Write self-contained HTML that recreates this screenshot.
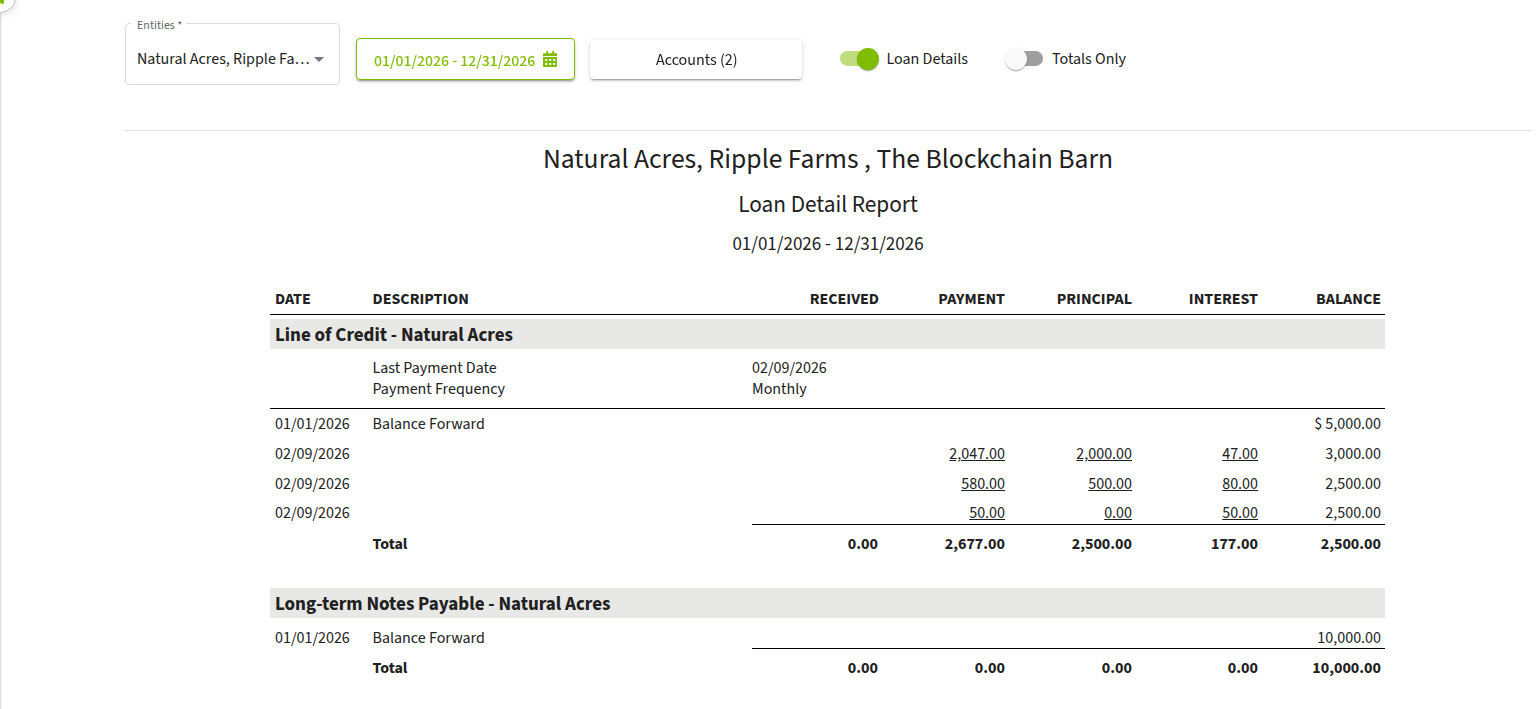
<!DOCTYPE html>
<html lang="en">
<head>
<meta charset="utf-8">
<title>Loan Detail Report</title>
<style>
html,body{margin:0;padding:0;background:#fff;}
body{width:1539px;height:709px;overflow:hidden;position:relative;
  font-family:"Source Sans 3","Source Sans Pro","Liberation Sans",sans-serif;color:#212121;font-size:16px;}
.a{position:absolute;white-space:nowrap;}
.t16{font-size:16px;line-height:20px;height:20px;}
.r{text-align:right;}
.gs{will-change:transform;}
.b{font-weight:700;}
u{text-decoration:underline;}
/* left rail */
#rail{position:absolute;left:0;top:10px;width:1px;height:699px;background:#dcdcdc;box-shadow:1px 0 0 #f5f5f5;}
#knob{position:absolute;left:-15.9px;top:-18.5px;width:29.8px;height:29.8px;border-radius:50%;background:#fff;border:1px solid #c6c6c6;box-shadow:1px 2px 7px rgba(0,0,0,.10);}
/* entity select */
#ent{position:absolute;left:125px;top:23px;width:213px;height:60px;border:1px solid #dcdcdc;border-radius:4px;}
#entlab{position:absolute;left:131px;top:18px;padding:0 4px 0 6px;background:#fff;font-size:12px;line-height:16px;color:#666;}
#caret{position:absolute;left:314px;top:57px;width:0;height:0;border-left:5px solid transparent;border-right:5px solid transparent;border-top:5px solid #757575;}
/* date button */
#datebtn{position:absolute;left:356px;top:38px;width:217px;height:40px;border:1px solid #80bc00;border-radius:4px;background:#fff;
  box-shadow:0 3px 1px -2px rgba(0,0,0,.2),0 2px 2px 0 rgba(0,0,0,.14),0 1px 5px 0 rgba(0,0,0,.12);}
#acctbtn{position:absolute;left:590px;top:40px;width:212px;height:39px;border-radius:4px;background:#fff;
  box-shadow:0 3px 1px -2px rgba(0,0,0,.2),0 2px 2px 0 rgba(0,0,0,.14),0 1px 5px 0 rgba(0,0,0,.12);}
.track{position:absolute;width:36px;height:14.7px;border-radius:7.35px;}
.thumb{position:absolute;width:22px;height:22px;border-radius:50%;
  box-shadow:0 2px 1px -1px rgba(0,0,0,.2),0 1px 1px 0 rgba(0,0,0,.14),0 1px 3px 0 rgba(0,0,0,.12);}
#hr{position:absolute;left:125px;top:130px;width:1406px;height:1px;background:#e0e0e0;}
.center{position:absolute;left:125px;width:1406px;text-align:center;white-space:nowrap;}
.band{position:absolute;left:270px;width:1115px;height:30px;background:#e8e8e6;}
.line{position:absolute;height:1px;background:#000;}
</style>
</head>
<body>
<div id="rail"></div>
<div id="knob"></div>
<svg style="position:absolute;left:-20px;top:-20px;overflow:visible" width="40" height="40" viewBox="0 0 40 40"><path d="M19 16 L24 16 L24 22.4 Q24 24.1 22.5 24.1 Q21.4 24.1 20.7 23.2 L19 21.6 Z" fill="#80bc00"/></svg>

<!-- Entities select -->
<div id="ent"></div>
<div id="entlab">Entities *</div>
<div class="a t16" style="left:137px;top:49px;width:174px;overflow:hidden;text-overflow:ellipsis;">Natural Acres, Ripple Farms , The Blockchain Barn</div>
<div id="caret"></div>

<!-- Date range button -->
<div id="datebtn"></div>
<div class="a t16 gs" style="left:373.6px;top:51.2px;color:#80bc00;font-weight:500;font-size:15.85px;">01/01/2026 - 12/31/2026</div>
<svg class="a" style="left:542.6px;top:50.9px" width="14.5" height="16" viewBox="0 0 14.5 16">
  <g fill="#80bc00">
    <rect x="3.3" y="0" width="1.9" height="3" rx="0.6"/>
    <rect x="9.3" y="0" width="1.9" height="3" rx="0.6"/>
    <path d="M1 2.2h12.5c.55 0 1 .45 1 1V5H0V3.2c0-.55.45-1 1-1z"/>
    <path fill-rule="evenodd" d="M0 6.1h14.5v8.9c0 .55-.45 1-1 1H1c-.55 0-1-.45-1-1z M2.3 8v2h2v-2z M6.25 8v2h2v-2z M10.2 8v2h2v-2z M2.3 12v2h2v-2z M6.25 12v2h2v-2z M10.2 12v2h2v-2z"/>
  </g>
</svg>

<!-- Accounts button -->
<div id="acctbtn"></div>
<div class="a t16 gs" style="left:655.5px;top:50.2px;">Accounts (2)</div>

<!-- Loan Details switch -->
<div class="track" style="left:840px;top:51.1px;background:#80bc00;opacity:.5"></div>
<div class="thumb" style="left:857.1px;top:47.6px;background:#80bc00"></div>
<div class="a t16" style="left:886.5px;top:49px;">Loan Details</div>

<!-- Totals Only switch -->
<div class="track" style="left:1006.9px;top:51.1px;background:#000;opacity:.38"></div>
<div class="thumb" style="left:1004.6px;top:47.6px;background:#fafafa"></div>
<div class="a t16" style="left:1052px;top:49px;">Totals Only</div>

<div id="hr"></div>

<!-- Report header -->
<div class="center" style="top:143px;font-size:27.6px;line-height:34px;">Natural Acres, Ripple Farms , The Blockchain Barn</div>
<div class="center" style="top:190px;font-size:23.3px;line-height:30px;">Loan Detail Report</div>
<div class="center" style="top:233.3px;font-size:19px;line-height:24px;">01/01/2026 - 12/31/2026</div>

<!-- Table header -->
<div class="a t16 b" style="left:275px;top:289px;">DATE</div>
<div class="a t16 b" style="left:372.5px;top:289px;">DESCRIPTION</div>
<div class="a t16 b r" style="right:660px;top:289px;">RECEIVED</div>
<div class="a t16 b r" style="right:534px;top:289px;">PAYMENT</div>
<div class="a t16 b r" style="right:407px;top:289px;">PRINCIPAL</div>
<div class="a t16 b r" style="right:281px;top:289px;">INTEREST</div>
<div class="a t16 b r" style="right:158px;top:289px;">BALANCE</div>
<div class="line" style="left:270px;top:314px;width:1115px;"></div>

<!-- Group 1 -->
<div class="band" style="top:319px;"></div>
<div class="a b" style="left:275px;top:323.5px;font-size:19px;line-height:24px;">Line of Credit - Natural Acres</div>
<div class="a t16" style="left:372.5px;top:358px;">Last Payment Date</div>
<div class="a t16" style="left:752px;top:358px;">02/09/2026</div>
<div class="a t16" style="left:372.5px;top:379px;">Payment Frequency</div>
<div class="a t16" style="left:752px;top:379px;">Monthly</div>
<div class="line" style="left:270px;top:408px;width:1115px;"></div>

<div class="a t16" style="left:275px;top:414px;">01/01/2026</div>
<div class="a t16" style="left:372.5px;top:414px;">Balance Forward</div>
<div class="a t16 r" style="right:158px;top:414px;">$ 5,000.00</div>

<div class="a t16" style="left:275px;top:444px;">02/09/2026</div>
<div class="a t16 r" style="right:534px;top:444px;"><u>2,047.00</u></div>
<div class="a t16 r" style="right:407px;top:444px;"><u>2,000.00</u></div>
<div class="a t16 r" style="right:281px;top:444px;"><u>47.00</u></div>
<div class="a t16 r" style="right:158px;top:444px;">3,000.00</div>

<div class="a t16" style="left:275px;top:474.3px;">02/09/2026</div>
<div class="a t16 r" style="right:534px;top:474.3px;"><u>580.00</u></div>
<div class="a t16 r" style="right:407px;top:474.3px;"><u>500.00</u></div>
<div class="a t16 r" style="right:281px;top:474.3px;"><u>80.00</u></div>
<div class="a t16 r" style="right:158px;top:474.3px;">2,500.00</div>

<div class="a t16" style="left:275px;top:503.2px;">02/09/2026</div>
<div class="a t16 r" style="right:534px;top:503.2px;"><u>50.00</u></div>
<div class="a t16 r" style="right:407px;top:503.2px;"><u>0.00</u></div>
<div class="a t16 r" style="right:281px;top:503.2px;"><u>50.00</u></div>
<div class="a t16 r" style="right:158px;top:503.2px;">2,500.00</div>
<div class="line" style="left:752px;top:524px;width:633px;"></div>

<div class="a t16 b" style="left:372.5px;top:534px;">Total</div>
<div class="a t16 b r" style="right:661px;top:534px;">0.00</div>
<div class="a t16 b r" style="right:534px;top:534px;">2,677.00</div>
<div class="a t16 b r" style="right:407px;top:534px;">2,500.00</div>
<div class="a t16 b r" style="right:281px;top:534px;">177.00</div>
<div class="a t16 b r" style="right:158px;top:534px;">2,500.00</div>

<!-- Group 2 -->
<div class="band" style="top:588px;"></div>
<div class="a b" style="left:275px;top:593px;font-size:19px;line-height:24px;">Long-term Notes Payable - Natural Acres</div>
<div class="a t16" style="left:275px;top:628px;">01/01/2026</div>
<div class="a t16" style="left:372.5px;top:628px;">Balance Forward</div>
<div class="a t16 r" style="right:158px;top:628px;">10,000.00</div>
<div class="line" style="left:752px;top:648px;width:633px;"></div>

<div class="a t16 b" style="left:372.5px;top:658px;">Total</div>
<div class="a t16 b r" style="right:661px;top:658px;">0.00</div>
<div class="a t16 b r" style="right:534px;top:658px;">0.00</div>
<div class="a t16 b r" style="right:407px;top:658px;">0.00</div>
<div class="a t16 b r" style="right:281px;top:658px;">0.00</div>
<div class="a t16 b r" style="right:158px;top:658px;">10,000.00</div>
</body>
</html>
